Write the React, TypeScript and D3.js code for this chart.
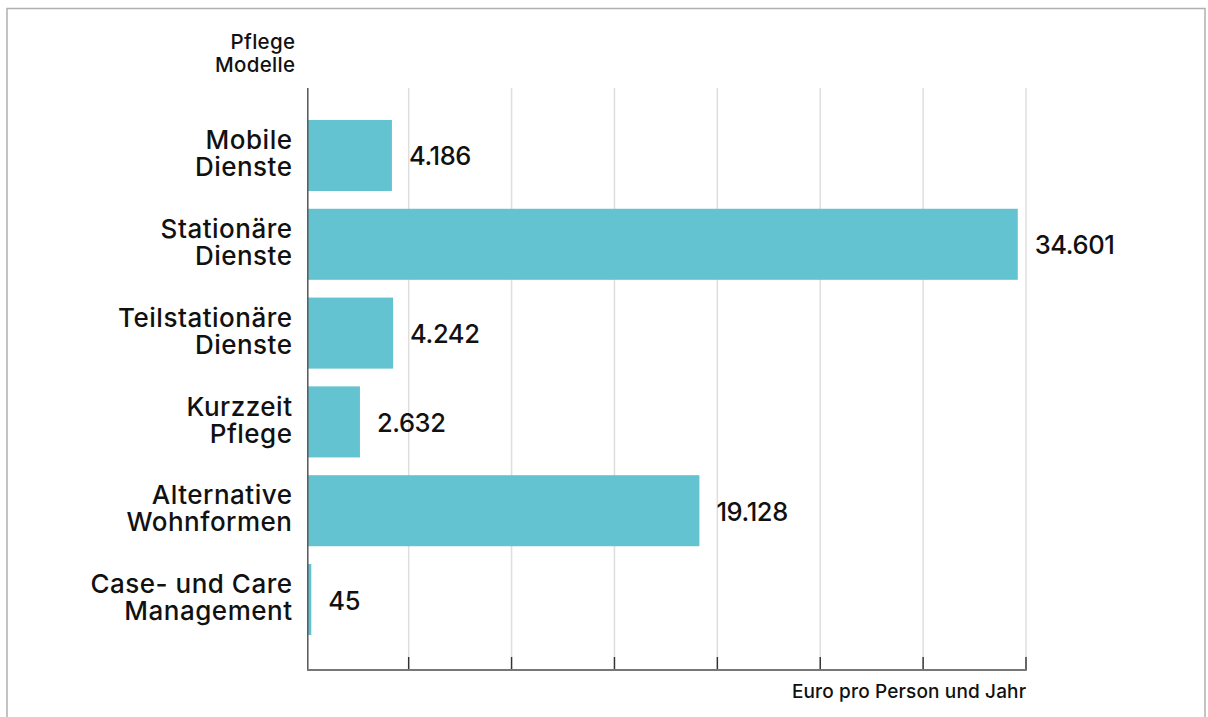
import React from "react";
import * as d3 from "d3";

const categories: string[] = [
  "Mobile\nDienste",
  "Stationäre\nDienste",
  "Teilstationäre\nDienste",
  "Kurzzeit\nPflege",
  "Alternative\nWohnformen",
  "Case- und Care\nManagement",
];
const values: number[] = [4186, 34601, 4242, 2632, 19128, 45];
const valueLabels: string[] = ["4.186", "34.601", "4.242", "2.632", "19.128", "45"];
const xTicks: number[] = [0, 5000, 10000, 15000, 20000, 25000, 30000, 35000];
const yTitle: string[] = ["Pflege", "Modelle"];
const xTitle = "Euro pro Person und Jahr";

const W = 1208;
const H = 717;
const FONT = "Inter, 'Open Sans', sans-serif";
const BAR = "#64c3d0";
const MIN_BAR = 3.5;

export default function App() {
  const x = d3.scaleLinear().domain([0, 35000]).range([305.8, 1026]);
  const y = d3.scaleBand<string>().domain(categories).range([102.2, 652.8]).paddingInner(0.2).paddingOuter(0.2);
  const axisTop = 88;
  const axisBottom = 670;
  const tickTop = 657;
  const axisX = x(0) + 2;

  return (
    <svg
      width={W}
      height={H}
      style={{ position: "absolute", left: 0, top: 0, background: "#fff" }}
      fontFamily={FONT}
      fontWeight={500}
    >
      <rect x={7} y={8.5} width={1198} height={760} fill="none" stroke="#b0b0b0" strokeWidth={1.5} />
      {/* gridlines */}
      {xTicks.slice(1).map((t) => (
        <g key={t}>
          <line x1={x(t)} x2={x(t)} y1={axisTop} y2={tickTop} stroke="#dedede" strokeWidth={1.5} />
          <line x1={x(t)} x2={x(t)} y1={tickTop} y2={axisBottom} stroke="#333" strokeWidth={1.5} />
        </g>
      ))}
      {/* bars */}
      {categories.map((c, i) => (
        <rect
          key={c}
          x={axisX}
          y={y(c)}
          width={Math.max(x(values[i]) - axisX, MIN_BAR)}
          height={y.bandwidth()}
          fill={BAR}
        />
      ))}
      {/* axes */}
      <line x1={axisX} x2={axisX} y1={axisTop} y2={axisBottom} stroke="#555" strokeWidth={1.5} />
      <line x1={axisX - 0.75} x2={x(35000) + 0.75} y1={axisBottom} y2={axisBottom} stroke="#777" strokeWidth={2} />
      {/* category labels */}
      {categories.map((c) => {
        const cy = (y(c) as number) + y.bandwidth() / 2;
        const lines = c.split("\n");
        return (
          <text key={c} textAnchor="end" fontSize={26} fill="#111" letterSpacing={0.5}>
            <tspan x={292.5} y={cy - 6.3}>{lines[0]}</tspan>
            <tspan x={292.5} y={cy + 20.7}>{lines[1]}</tspan>
          </text>
        );
      })}
      {/* value labels */}
      {categories.map((c, i) => {
        const cy = (y(c) as number) + y.bandwidth() / 2;
        return (
          <text key={c} x={Math.max(x(values[i]), axisX + MIN_BAR) + 17} y={cy + 10} fontSize={25.5} fill="#111" letterSpacing={-0.4}>
            {valueLabels[i]}
          </text>
        );
      })}
      {/* y title */}
      <text textAnchor="end" fontSize={20.5} fill="#111" letterSpacing={0.3}>
        <tspan x={295.3} y={49.3}>{yTitle[0]}</tspan>
        <tspan x={295.3} y={72}>{yTitle[1]}</tspan>
      </text>
      {/* x title */}
      <text x={1026.2} y={698.3} textAnchor="end" fontSize={19} fill="#111" letterSpacing={0.15}>
        {xTitle}
      </text>
    </svg>
  );
}
